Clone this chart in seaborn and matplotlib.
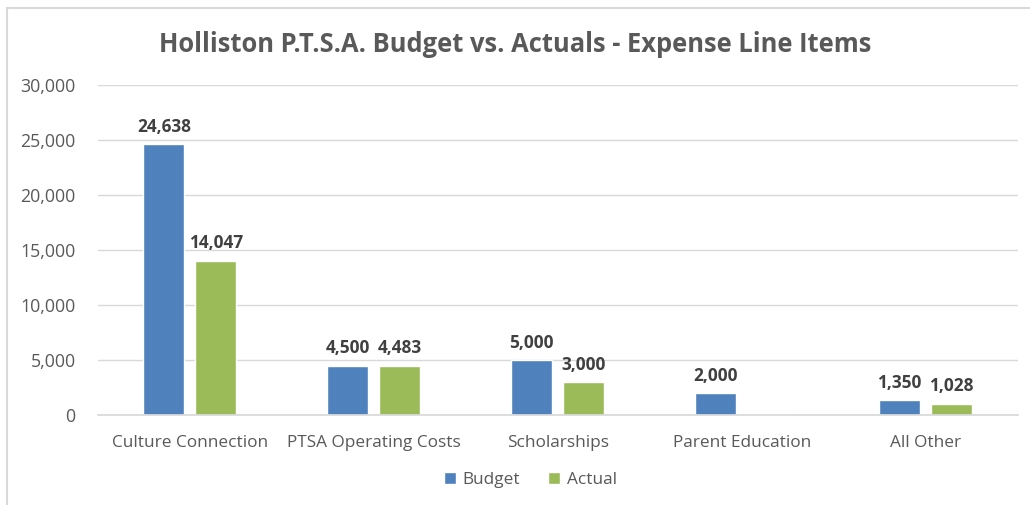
import matplotlib
matplotlib.use("Agg")
import matplotlib.pyplot as plt
import seaborn as sns
import pandas as pd
from matplotlib.patches import Rectangle
from matplotlib.ticker import FuncFormatter

# data
categories = ["Culture Connection", "PTSA Operating Costs", "Scholarships",
              "Parent Education", "All Other"]
budget = [24638, 4500, 5000, 2000, 1350]
actual = [14047, 4483, 3000, 100, 1028]
series = ["Budget", "Actual"]
colors = ["#4F81BD", "#9BBB59"]

df = pd.DataFrame({
    "category": categories * 2,
    "series": ["Budget"] * len(categories) + ["Actual"] * len(categories),
    "value": budget + actual,
})

sns.set_theme(style="white")
plt.rcParams["font.family"] = ["Open Sans", "DejaVu Sans"]

fig = plt.figure(figsize=(10.3, 5.05), dpi=100)
ax = fig.add_axes([0.095, 0.178, 0.893, 0.653])

sns.barplot(data=df, x="category", y="value", hue="series", hue_order=series,
            palette=colors, width=0.565, gap=0.21, ax=ax, legend=True,
            saturation=1)

ax.set_ylim(0, 30000)
ax.set_yticks(range(0, 30001, 5000))
ax.yaxis.set_major_formatter(FuncFormatter(lambda v, p: f"{int(v):,}"))
ax.yaxis.grid(True, color="#D9D9D9", linewidth=1)
ax.set_axisbelow(True)
for s in ["top", "right", "left"]:
    ax.spines[s].set_visible(False)
ax.spines["bottom"].set_color("#D9D9D9")
ax.tick_params(axis="x", length=0, labelsize=12.4, colors="#595959", pad=14)
ax.tick_params(axis="y", length=0, labelsize=12.8, colors="#595959", pad=16)
ax.set_xlabel("")
ax.set_ylabel("")

# value labels (Parent Education actual has none in the reference)
for cont, vals in zip(ax.containers, [budget, actual]):
    labels = [f"{v:,}" if v > 100 else "" for v in vals]
    ax.bar_label(cont, labels=labels, padding=6, fontsize=12.4,
                 fontweight="bold", color="#404040")

leg = ax.legend(loc="upper center", bbox_to_anchor=(0.47, -0.125), ncol=2,
                frameon=False, fontsize=12.4, handlelength=0.7,
                handleheight=0.7, columnspacing=1.6, handletextpad=0.4)
for t in leg.get_texts():
    t.set_color("#595959")

fig.text(0.5, 0.912, "Holliston P.T.S.A. Budget vs. Actuals - Expense Line Items",
         ha="center", va="center", fontsize=18.4, fontweight="bold",
         color="#595959")

fig.patches.append(Rectangle((0.007, -0.02), 1.05, 1.005, transform=fig.transFigure,
                             fill=False, edgecolor="#D9D9D9", linewidth=1.5))

fig.savefig("out.png", dpi=100)
